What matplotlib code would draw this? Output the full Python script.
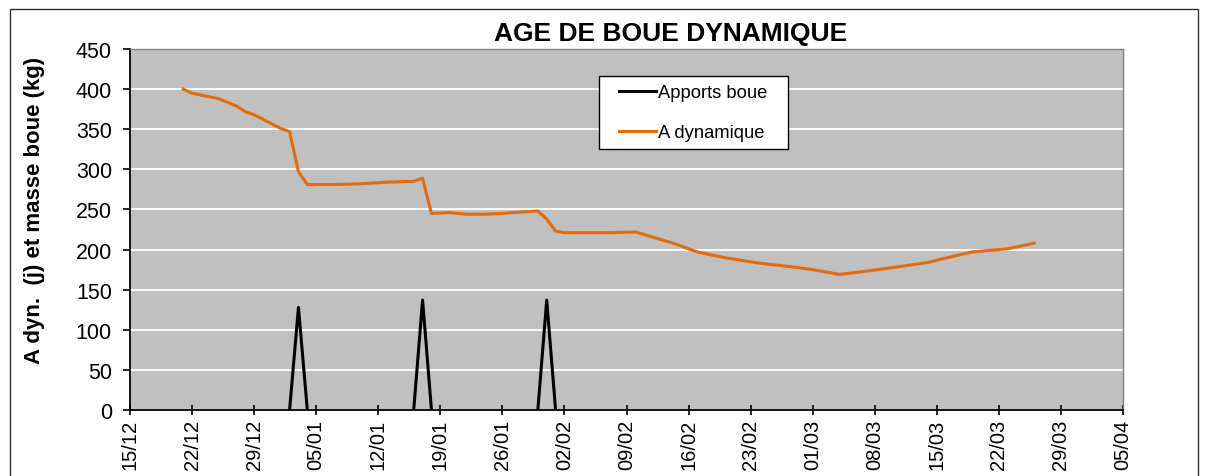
import matplotlib
matplotlib.use("Agg")
import matplotlib.pyplot as plt
import matplotlib.dates as mdates
from matplotlib.patches import Rectangle
import numpy as np
import pandas as pd

plt.rcParams['font.family'] = ['Liberation Sans', 'DejaVu Sans']

# A dynamique (age de boue dynamique)
dyn_dates = ["2007-12-21", "2007-12-22", "2007-12-25", "2007-12-27", "2007-12-28",
             "2007-12-29", "2008-01-01", "2008-01-02", "2008-01-03", "2008-01-04",
             "2008-01-07", "2008-01-10", "2008-01-13", "2008-01-16", "2008-01-17",
             "2008-01-18", "2008-01-20", "2008-01-22", "2008-01-24", "2008-01-26",
             "2008-01-27", "2008-01-30", "2008-01-31", "2008-02-01", "2008-02-02",
             "2008-02-04", "2008-02-07", "2008-02-10", "2008-02-13", "2008-02-14",
             "2008-02-15", "2008-02-17", "2008-02-20", "2008-02-24", "2008-02-28",
             "2008-03-01", "2008-03-04", "2008-03-07", "2008-03-11", "2008-03-14",
             "2008-03-17", "2008-03-19", "2008-03-23", "2008-03-26"]
dyn_values = [400, 395, 388, 379, 372, 368, 351, 347, 297, 281,
              281, 282, 284, 285, 289, 245, 246, 244, 244, 245,
              246, 248, 238, 223, 221, 221, 221, 222, 212, 209,
              205, 197, 190, 183, 178, 175, 169, 173, 179, 184,
              192, 197, 201, 208]

# Apports boue (kg) - NaN breaks between the three deliveries
app_dates = ["2008-01-02", "2008-01-03", "2008-01-04", "2008-01-10",
             "2008-01-16", "2008-01-17", "2008-01-18", "2008-01-24",
             "2008-01-30", "2008-01-31", "2008-02-01"]
app_values = [0, 128, 0, np.nan, 0, 137, 0, np.nan, 0, 137, 0]

tick_start = "2007-12-15"
tick_end = "2008-04-05"

W, H = 1206, 477

dyn_x = pd.to_datetime(dyn_dates)
app_x = pd.to_datetime(app_dates)
ticks = pd.date_range(tick_start, tick_end, freq="7D")

fig = plt.figure(figsize=(W / 100, H / 100), dpi=100)
ax = fig.add_axes([130 / W, 1 - 411 / H, 993 / W, 361 / H])
ax.set_facecolor("#C0C0C0")

ax.plot(app_x, app_values, color="black", lw=2.2, label="Apports boue")
ax.plot(dyn_x, dyn_values, color="#E26B0A", lw=2.2, label="A dynamique")

ax.set_xlim(ticks[0], ticks[-1])
ax.set_ylim(0, 450)
ax.set_yticks(range(0, 451, 50))
ax.set_xticks(ticks)
ax.xaxis.set_major_formatter(mdates.DateFormatter("%d/%m"))
ax.tick_params(axis="x", direction="inout", length=7, width=1.2, labelsize=14.5,
               labelrotation=90, pad=3)
ax.tick_params(axis="y", direction="out", length=5, width=1.2, labelsize=15.5, pad=8)

ax.grid(axis="y", color="white", lw=1.3)
ax.set_axisbelow(True)
for s in ["left", "bottom"]:
    ax.spines[s].set_color("black")
    ax.spines[s].set_linewidth(1.3)
for s in ["top", "right"]:
    ax.spines[s].set_color("#808080")
    ax.spines[s].set_linewidth(1.0)

fig.text(671 / W, 1 - 41 / H, "AGE DE BOUE DYNAMIQUE", fontsize=19,
         fontweight="bold", ha="center", va="baseline")
fig.text(35 / W, 1 - 210 / H, "A dyn.  (j) et masse boue (kg)", fontsize=16,
         fontweight="bold", rotation=90, ha="center", va="center")

# legend box drawn separately so the padding can differ horizontally / vertically
ax.add_patch(Rectangle(((599 - 130) / 993, (411 - 150) / 361), 189 / 993, 73 / 361,
                       transform=ax.transAxes, facecolor="white", edgecolor="black",
                       lw=1.0, zorder=4.9))
leg = ax.legend(loc="upper left", bbox_to_anchor=((619 - 130) / 993, (411 - 85) / 361),
                fontsize=13.2, frameon=False, handlelength=2.0, handletextpad=0.15,
                labelspacing=1.25, borderpad=0, borderaxespad=0)
leg.set_zorder(5)

fig.add_artist(Rectangle((10 / W, -0.2), 1188 / W, 1.2 - 10 / H,
                         transform=fig.transFigure, fill=False,
                         edgecolor="#303030", lw=1.0))

fig.savefig("out.png", dpi=100)
